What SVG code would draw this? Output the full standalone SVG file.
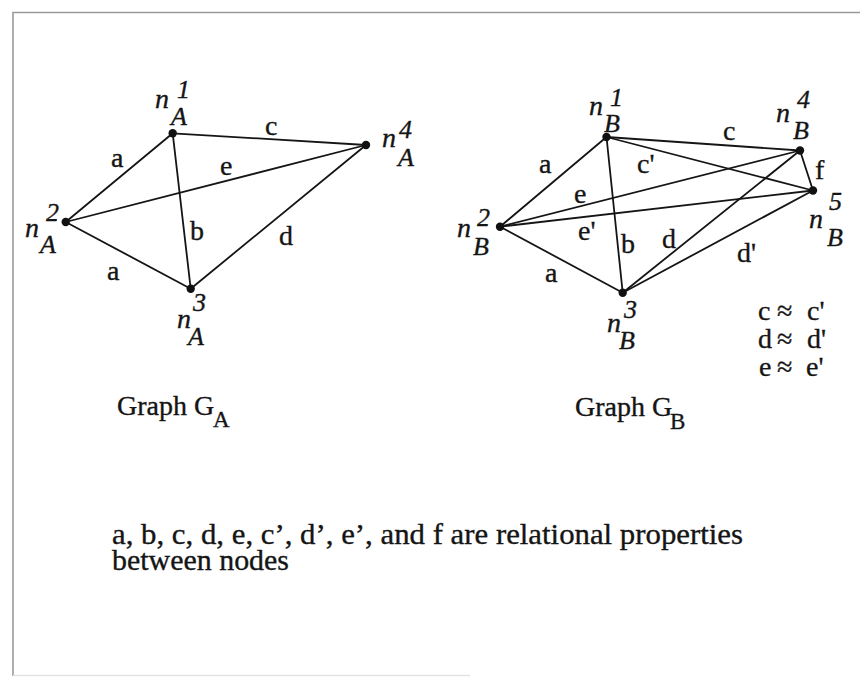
<svg xmlns="http://www.w3.org/2000/svg" width="860" height="678" viewBox="0 0 860 678">
<style>
text{font-family:"Liberation Serif","Times New Roman",serif;fill:#151515;stroke:#151515;stroke-width:0.35}
.lbl{font-size:28px}
.n{font-size:28px;font-style:italic}
.sup{font-size:26px;font-style:italic}
.sub{font-size:26px;font-style:italic}
.edge line{stroke:#151515;stroke-width:1.8;stroke-linecap:round}
.dot{fill:#111}
</style>
<rect width="860" height="678" fill="#fff"/>
<path d="M13,676 L13,12.5 L860,12.5" fill="none" stroke="#9a9a9a" stroke-width="1.6"/>
<line x1="13" y1="675.5" x2="470" y2="675.5" stroke="#e2e2e2" stroke-width="1.4"/>

<g id="edges-A" class="edge">
<line x1="172.7" y1="133.3" x2="65.7" y2="222"/>
<line x1="172.7" y1="133.3" x2="366" y2="145"/>
<line x1="172.7" y1="133.3" x2="190.7" y2="288.7"/>
<line x1="65.7" y1="222" x2="366" y2="145"/>
<line x1="65.7" y1="222" x2="190.7" y2="288.7"/>
<line x1="190.7" y1="288.7" x2="366" y2="145"/>
</g>
<g id="edge-labels-A" class="lbl">
<text x="111" y="167">a</text>
<text x="265" y="135">c</text>
<text x="220" y="175">e</text>
<text x="190" y="240">b</text>
<text x="279" y="245">d</text>
<text x="107" y="280">a</text>
</g>

<g id="nA1"><circle class="dot" cx="172.7" cy="133.3" r="4.2"/>
<text class="n" x="155" y="108">n</text><text class="sup" x="177" y="98">1</text><text class="sub" x="171" y="125">A</text></g>
<g id="nA2"><circle class="dot" cx="65.7" cy="222" r="4.2"/>
<text class="n" x="25" y="237">n</text><text class="sup" x="46" y="221">2</text><text class="sub" x="40" y="253">A</text></g>
<g id="nA3"><circle class="dot" cx="190.7" cy="288.7" r="4.2"/>
<text class="n" x="177" y="328">n</text><text class="sup" x="193" y="311">3</text><text class="sub" x="188" y="345">A</text></g>
<g id="nA4"><circle class="dot" cx="366" cy="145" r="4.2"/>
<text class="n" x="382" y="147">n</text><text class="sup" x="399" y="138">4</text><text class="sub" x="398" y="166">A</text></g>

<g id="edges-B" class="edge">
<line x1="606.5" y1="137" x2="500" y2="226.7"/>
<line x1="606.5" y1="137" x2="800" y2="150.5"/>
<line x1="606.5" y1="137" x2="813" y2="190.5"/>
<line x1="606.5" y1="137" x2="622.7" y2="292.7"/>
<line x1="500" y1="226.7" x2="800" y2="150.5"/>
<line x1="500" y1="226.7" x2="813" y2="190.5"/>
<line x1="500" y1="226.7" x2="622.7" y2="292.7"/>
<line x1="622.7" y1="292.7" x2="800" y2="150.5"/>
<line x1="622.7" y1="292.7" x2="813" y2="190.5"/>
<line x1="800" y1="150.5" x2="813" y2="190.5"/>
</g>
<g id="edge-labels-B" class="lbl">
<text x="539" y="173">a</text>
<text x="723" y="140">c</text>
<text x="637" y="173">c'</text>
<text x="574" y="203">e</text>
<text x="578" y="240">e'</text>
<text x="621" y="253">b</text>
<text x="662" y="248">d</text>
<text x="737" y="262">d'</text>
<text x="545" y="282">a</text>
<text x="815" y="179">f</text>
</g>

<g id="nB1"><circle class="dot" cx="606.5" cy="137" r="4.2"/>
<text class="n" x="589" y="115">n</text><text class="sup" x="610" y="106">1</text><text class="sub" x="604" y="132">B</text></g>
<g id="nB2"><circle class="dot" cx="500" cy="226.7" r="4.2"/>
<text class="n" x="457" y="237">n</text><text class="sup" x="477" y="226">2</text><text class="sub" x="473" y="255">B</text></g>
<g id="nB3"><circle class="dot" cx="622.7" cy="292.7" r="4.2"/>
<text class="n" x="607" y="332">n</text><text class="sup" x="624" y="318">3</text><text class="sub" x="619" y="349">B</text></g>
<g id="nB4"><circle class="dot" cx="800" cy="150.5" r="4.2"/>
<text class="n" x="776" y="122">n</text><text class="sup" x="797" y="108">4</text><text class="sub" x="793" y="139">B</text></g>
<g id="nB5"><circle class="dot" cx="813" cy="190.5" r="4.2"/>
<text class="n" x="809" y="228">n</text><text class="sup" x="829" y="210">5</text><text class="sub" x="827" y="246">B</text></g>

<g id="legend" class="lbl">
<text x="758" y="320">c</text><text x="777" y="320">≈</text><text x="807" y="320">c'</text>
<text x="758" y="348">d</text><text x="777" y="348">≈</text><text x="807" y="348">d'</text>
<text x="759" y="376">e</text><text x="777" y="376">≈</text><text x="806" y="376">e'</text>
</g>

<g id="titles">
<text x="117" y="415" font-size="28">Graph G</text><text x="213" y="427" font-size="23">A</text>
<text x="575" y="416" font-size="28">Graph G</text><text x="670" y="429" font-size="23">B</text>
</g>

<g id="caption" font-size="30">
<text x="112" y="544" textLength="631" lengthAdjust="spacingAndGlyphs">a, b, c, d, e, c’, d’, e’, and f are relational properties</text>
<text x="112" y="570" textLength="177" lengthAdjust="spacingAndGlyphs">between nodes</text>
</g>
</svg>
